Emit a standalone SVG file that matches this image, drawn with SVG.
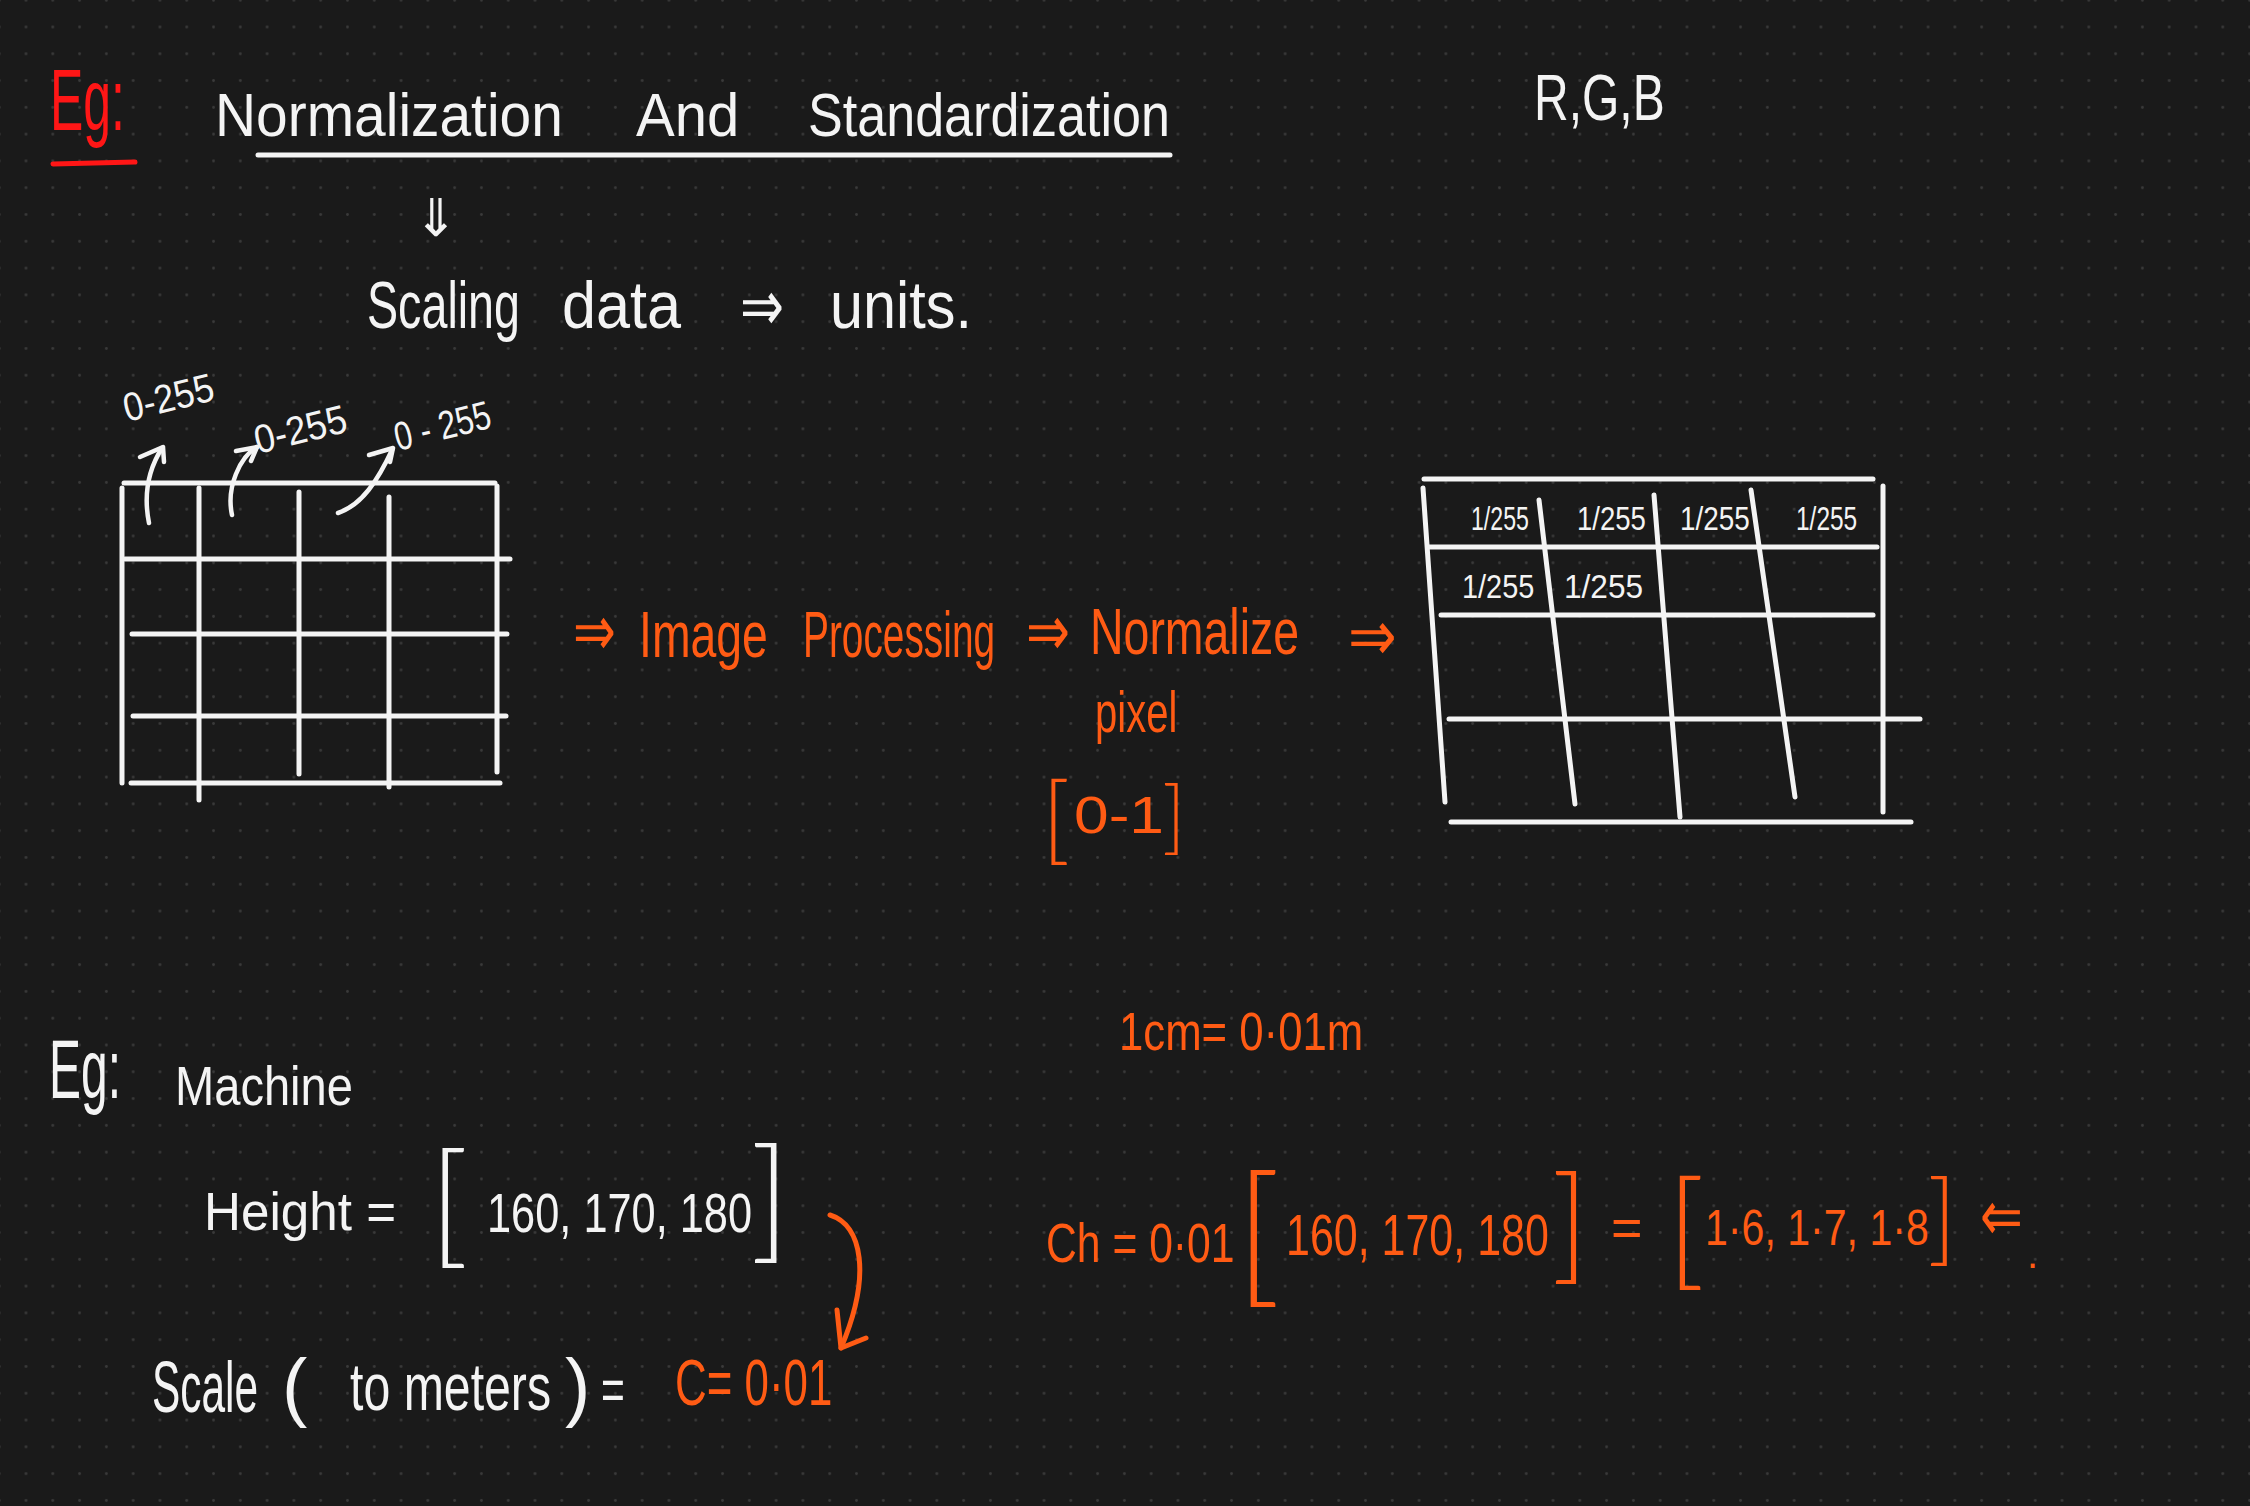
<svg xmlns="http://www.w3.org/2000/svg" width="2250" height="1506" viewBox="0 0 2250 1506">
<defs>
<pattern id="dots" x="12.6" y="13.6" width="26.79" height="26.79" patternUnits="userSpaceOnUse">
<circle cx="13.4" cy="13.4" r="1.4" fill="#3a3a3a"/>
</pattern>
<style>
.w{fill:#f4f4f4;font-family:"Liberation Sans",Arial,sans-serif}
.o{fill:#ff5b14;font-family:"Liberation Sans",Arial,sans-serif}
.r{fill:#ff1616;font-family:"Liberation Sans",Arial,sans-serif}
.sym{font-family:"DejaVu Sans",sans-serif}
.br{font-family:Lato,"Liberation Sans",sans-serif;font-weight:300}
.lw{stroke:#f4f4f4;stroke-width:5;stroke-linecap:round;fill:none}
.lo{stroke:#ff5b14;stroke-width:5;stroke-linecap:round;stroke-linejoin:round;fill:none}
.lr{stroke:#ff1616;stroke-width:5;stroke-linecap:round;fill:none}
.aw{stroke:#f4f4f4;stroke-width:4.5;stroke-linecap:round;stroke-linejoin:round;fill:none}
</style>
</defs>
<rect width="2250" height="1506" fill="#1a1a1a"/>
<rect width="2250" height="1506" fill="url(#dots)"/>

<g id="title">
<text class="r" font-size="88" transform="translate(50,130) scale(0.568,1)">Eg:</text>
<line class="lr" x1="53" y1="164" x2="135" y2="162"/>
<text class="w" font-size="62" transform="translate(215,136) scale(0.918,1)">Normalization</text>
<text class="w" font-size="62" transform="translate(636,136) scale(0.936,1)">And</text>
<text class="w" font-size="62" transform="translate(808,136) scale(0.84,1)">Standardization</text>
<line class="lw" x1="258" y1="155" x2="1170" y2="155"/>
</g>

<g id="scaling">
<text class="w sym" x="414" y="236" font-size="52" textLength="44" lengthAdjust="spacingAndGlyphs">⇓</text>
<text class="w" font-size="66" transform="translate(367,328) scale(0.707,1)">Scaling</text>
<text class="w" font-size="66" transform="translate(562,328) scale(0.927,1)">data</text>
<text class="w sym" font-size="70" transform="translate(740,330) scale(0.75,1)">⇒</text>
<text class="w" font-size="66" transform="translate(830,328) scale(0.9,1)">units.</text>
</g>

<g id="rgb">
<text class="w" font-size="64" transform="translate(1534,120) scale(0.75,1)">R,G,B</text>
</g>

<g id="pixel-grid">
<line class="lw" x1="124" y1="483" x2="495" y2="483"/>
<line class="lw" x1="125" y1="559" x2="510" y2="559"/>
<line class="lw" x1="132" y1="634" x2="507" y2="634"/>
<line class="lw" x1="133" y1="716" x2="506" y2="716"/>
<line class="lw" x1="131" y1="783" x2="500" y2="783"/>
<line class="lw" x1="122" y1="488" x2="122" y2="783"/>
<line class="lw" x1="199" y1="488" x2="199" y2="800"/>
<line class="lw" x1="299" y1="492" x2="299" y2="774"/>
<line class="lw" x1="389" y1="497" x2="389" y2="787"/>
<line class="lw" x1="497" y1="486" x2="497" y2="772"/>
<text class="w" font-size="40" transform="translate(127,422) rotate(-14) scale(0.9,1)">0-255</text>
<text class="w" font-size="40" transform="translate(258,454) rotate(-14) scale(0.92,1)">0-255</text>
<text class="w" font-size="40" transform="translate(398,451) rotate(-14) scale(0.79,1)">0 - 255</text>
</g>

<g id="pipeline">
<text class="o sym" font-size="70" transform="translate(573,655) scale(0.73,1)">⇒</text>
<text class="o" font-size="64" transform="translate(639,657) scale(0.725,1)">Image</text>
<text class="o" font-size="64" transform="translate(803,657) scale(0.607,1)">Processing</text>
<text class="o sym" font-size="70" transform="translate(1026,655) scale(0.75,1)">⇒</text>
<text class="o" font-size="64" transform="translate(1090,654) scale(0.726,1)">Normalize</text>
<text class="o sym" font-size="70" transform="translate(1348,660) scale(0.83,1)">⇒</text>
<text class="o" font-size="58" transform="translate(1095,732) scale(0.69,1)">pixel</text>
<text class="o br" x="1056" y="852" font-size="96" text-anchor="middle">[</text>
<text class="o" x="1074" y="833" font-size="52" textLength="90" lengthAdjust="spacingAndGlyphs">0-1</text>
<text class="o br" x="1174" y="844" font-size="80" text-anchor="middle">]</text>
</g>

<g id="normalized-grid">
<line class="lw" x1="1424" y1="479" x2="1873" y2="479"/>
<line class="lw" x1="1429" y1="547" x2="1877" y2="547"/>
<line class="lw" x1="1441" y1="615" x2="1873" y2="615"/>
<line class="lw" x1="1449" y1="719" x2="1920" y2="719"/>
<line class="lw" x1="1451" y1="822" x2="1911" y2="822"/>
<line class="lw" x1="1423" y1="488" x2="1445" y2="802"/>
<line class="lw" x1="1539" y1="500" x2="1575" y2="804"/>
<line class="lw" x1="1654" y1="495" x2="1680" y2="817"/>
<line class="lw" x1="1751" y1="490" x2="1795" y2="797"/>
<line class="lw" x1="1883" y1="486" x2="1883" y2="812"/>
<text class="w" font-size="34" transform="translate(1471,530) scale(0.68,1)">1/255</text>
<text class="w" font-size="34" transform="translate(1577,530) scale(0.81,1)">1/255</text>
<text class="w" font-size="34" transform="translate(1680,530) scale(0.82,1)">1/255</text>
<text class="w" font-size="34" transform="translate(1796,530) scale(0.72,1)">1/255</text>
<text class="w" font-size="34" transform="translate(1462,598) scale(0.85,1)">1/255</text>
<text class="w" font-size="34" transform="translate(1564,598) scale(0.93,1)">1/255</text>
</g>

<g id="machine">
<text class="w" font-size="84" transform="translate(49,1098) scale(0.571,1)">Eg:</text>
<text class="w" font-size="56" transform="translate(175,1105) scale(0.841,1)">Machine</text>
<text class="w" font-size="54" transform="translate(204,1230) scale(0.948,1)">Height =</text>
<text class="w br" x="449" y="1250" font-size="134" text-anchor="middle">[</text>
<text class="w" font-size="56" transform="translate(487,1232) scale(0.774,1)">160, 170, 180</text>
<text class="w br" x="770" y="1245" font-size="135" text-anchor="middle">]</text>
</g>

<g id="scale">
<text class="w" font-size="72" transform="translate(152,1412) scale(0.589,1)">Scale</text>
<text class="w" x="282" y="1412" font-size="76">(</text>
<text class="w" font-size="66" transform="translate(350,1410) scale(0.731,1)">to meters</text>
<text class="w" x="565" y="1412" font-size="76">)</text>
<text class="w" font-size="60" transform="translate(601,1410) scale(0.68,1)">=</text>
<text class="o" font-size="64" transform="translate(675,1405) scale(0.686,1)">C= 0·01</text>
</g>

<g id="conversion">
<text class="o" font-size="54" transform="translate(1119,1050) scale(0.81,1)">1cm= 0·01m</text>
<text class="o" font-size="56" transform="translate(1046,1262) scale(0.762,1)">Ch = 0·01</text>
<text class="o br" x="1258" y="1287" font-size="155" text-anchor="middle">[</text>
<text class="o" font-size="58" transform="translate(1286,1255) scale(0.741,1)">160, 170, 180</text>
<text class="o br" x="1570" y="1267" font-size="127" text-anchor="middle">]</text>
<text class="o" x="1611" y="1246" font-size="54">=</text>
<text class="o br" x="1686" y="1273" font-size="129" text-anchor="middle">[</text>
<text class="o" font-size="50" transform="translate(1705,1245) scale(0.822,1)">1·6, 1·7, 1·8</text>
<text class="o br" x="1942" y="1253" font-size="100" text-anchor="middle">]</text>
<text class="o sym" font-size="70" transform="translate(1980,1240) scale(0.73,1)">⇐</text>
<text class="o" x="2027" y="1268" font-size="40">.</text>
</g>

<g id="connectors">
<path class="aw" d="M149 523 C143 493 150 467 162 448"/>
<path class="aw" d="M140 457 L163 447 L164 462"/>
<path class="aw" d="M232 515 C226 487 240 457 257 447"/>
<path class="aw" d="M236 451 L257 447 L251 461"/>
<path class="aw" d="M338 513 C362 505 378 480 392 450"/>
<path class="aw" d="M369 455 L393 448 L390 462"/>
<path class="lo" d="M830 1215 C862 1225 872 1275 841 1348"/>
<path class="lo" d="M837 1310 L841 1348 L866 1338"/>
</g>
</svg>
